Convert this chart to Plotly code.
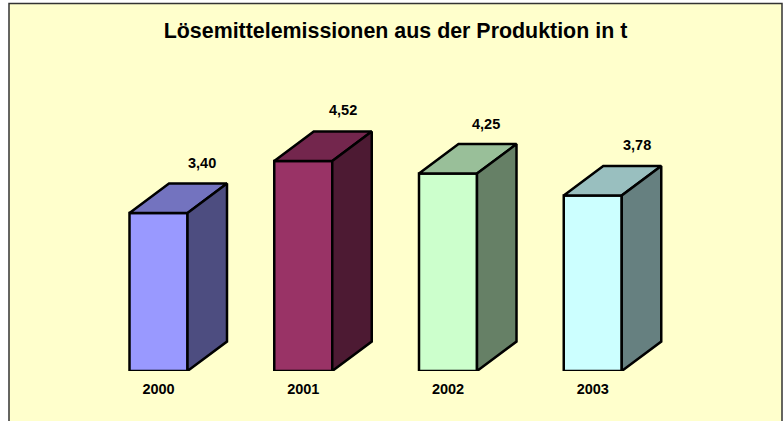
import plotly.graph_objects as go

title = "Lösemittelemissionen aus der Produktion in t"
years = ["2000", "2001", "2002", "2003"]
values = [3.40, 4.52, 4.25, 3.78]
value_labels = ["3,40", "4,52", "4,25", "3,78"]
front_colors = ["#9999FF", "#993366", "#CCFFCC", "#CCFFFF"]
top_colors = ["#7373BF", "#73264D", "#99BF99", "#99BFBF"]
side_colors = ["#4D4D80", "#4D1A33", "#668066", "#668080"]

W, H = 784, 421
BASE_PX = 371
X0_PX, STEP_PX = 158.5, 144.75
UNIT_PX = 46.45
half = 29 / STEP_PX
dx = 39.5 / STEP_PX
dy = 29.5 / UNIT_PX
label_shift = [-5.5, -9, -10.5, -5]
label_lift = [21, 22, 20, 21]

fig = go.Figure()
for i, v in enumerate(values):
    faces = [
        ([i - half, i + half, i + half, i - half, i - half], [0, 0, v, v, 0], front_colors[i]),
        ([i - half, i + half, i + half + dx, i - half + dx, i - half], [v, v, v + dy, v + dy, v], top_colors[i]),
        ([i + half, i + half + dx, i + half + dx, i + half, i + half], [0, dy, v + dy, v, 0], side_colors[i]),
    ]
    for xs, ys, c in faces:
        fig.add_trace(go.Scatter(x=xs, y=ys, mode="lines", fill="toself", fillcolor=c,
                                 line=dict(color="#000000", width=2.5), hoverinfo="skip", showlegend=False))
    fig.add_annotation(x=i + half + dx / 2, y=v + dy, text="<b>%s</b>" % value_labels[i], showarrow=False,
                       xshift=label_shift[i], yshift=label_lift[i], yanchor="middle", xanchor="center",
                       font=dict(family="Liberation Sans", size=14.5, color="#000000"))

fig.update_layout(
    width=W, height=H, autosize=False,
    margin=dict(l=0, r=0, t=0, b=H - BASE_PX, pad=0),
    paper_bgcolor="#FFFFFF", plot_bgcolor="rgba(0,0,0,0)",
    title=dict(text="<b>%s</b>" % title, x=395.5 / W, xanchor="center", y=1 - 31 / H, yanchor="middle",
               font=dict(family="Liberation Sans", size=21.4, color="#000000")),
    xaxis=dict(range=[-X0_PX / STEP_PX, (W - X0_PX) / STEP_PX], tickmode="array",
               tickvals=list(range(len(years))), ticktext=["<b>%s</b>" % y for y in years],
               showgrid=False, zeroline=False, showline=False, ticks="", ticklabelstandoff=7,
               tickfont=dict(family="Liberation Sans", size=14.5, color="#000000")),
    yaxis=dict(range=[0, BASE_PX / UNIT_PX], visible=False),
    shapes=[dict(type="rect", xref="paper", yref="paper", layer="below",
                 x0=9 / W, x1=782 / W, y0=-60 / BASE_PX, y1=1 - 3.5 / BASE_PX,
                 fillcolor="#FFFFCC", line=dict(color="#333333", width=1.5))],
)
fig.write_html("out.html", config=dict(displayModeBar=False),
               post_script="document.body.style.margin='0';document.documentElement.style.overflow='hidden';")
